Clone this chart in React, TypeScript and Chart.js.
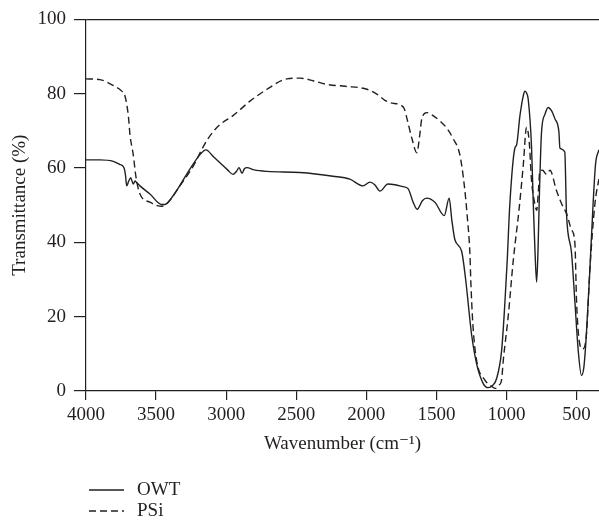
import React, { useEffect, useRef } from 'react';
import { Chart, registerables } from 'chart.js';

Chart.register(...registerables);

const FONT = '"Liberation Serif", "DejaVu Serif", serif';
const INK = '#231f20';
const FONT_SIZE = 19;

const seriesLabels = ['OWT', 'PSi'];

const owtWavenumber = [
  4000, 3900, 3805, 3760, 3729, 3718, 3710, 3695, 3681, 3663, 3650, 3639, 3615, 3544, 3460, 3437, 3377,
  3282, 3187, 3144, 3092, 3044, 2990, 2951, 2925, 2908, 2887, 2870, 2852, 2800, 2709, 2474, 2238, 2117,
  2024, 1974, 1940, 1903, 1846, 1796, 1740, 1701, 1668, 1637, 1600, 1570, 1511, 1444, 1409, 1390, 1368,
  1320, 1292, 1249, 1213, 1166, 1131, 1100, 1071, 1035, 1011, 995, 976, 940, 928, 904, 880, 869, 857,
  845, 821, 809, 797, 785, 775, 767, 750, 725, 703, 680, 655, 626, 619, 584, 572, 536, 512, 488, 465,
  448, 430, 405, 382, 365, 341,
];
const owtTransmittance = [
  62.2, 62.2, 61.8, 61.0, 60.1, 58.0, 55.2, 56.5, 57.4, 55.7, 56.5, 56.1, 55.2, 53.0, 50.2, 50.2, 52.6,
  58.3, 63.6, 64.9, 63.1, 61.4, 59.5, 58.3, 59.2, 60.1, 58.6, 59.8, 60.1, 59.5, 59.1, 58.8, 57.8, 57.0,
  55.2, 56.2, 55.5, 53.8, 55.7, 55.5, 55.0, 54.4, 51.0, 48.9, 51.2, 51.9, 50.8, 47.2, 51.9, 46.0, 40.7,
  37.6, 30.2, 15.2, 7.3, 2.0, 0.9, 1.5, 3.3, 10.8, 24.0, 35.0, 50.4, 65.4, 66.2, 74.1, 79.5, 80.7, 80.2,
  78.5, 65.4, 50.4, 38.0, 29.3, 38.0, 50.4, 69.7, 74.5, 76.3, 75.5, 73.3, 69.7, 65.4, 64.3, 47.8, 37.2,
  24.0, 10.8, 4.2, 6.4, 15.2, 32.8, 50.4, 60.9, 64.9,
];

const psiWavenumber = [
  4000, 3900, 3805, 3745, 3722, 3698, 3686, 3663, 3643, 3615, 3544, 3460, 3424, 3330, 3235, 3175, 3128,
  3050, 2951, 2830, 2709, 2566, 2474, 2380, 2281, 2150, 1996, 1925, 1870, 1832, 1760, 1730, 1710, 1675,
  1639, 1620, 1604, 1568, 1524, 1470, 1425, 1382, 1333, 1300, 1280, 1261, 1255, 1240, 1213, 1154, 1118,
  1082, 1052, 1035, 1023, 988, 952, 910, 880, 857, 838, 821, 798, 785, 772, 762, 743, 714, 690, 643, 596,
  572, 536, 512, 500, 481, 457, 430, 405, 369, 341,
];
const psiTransmittance = [
  84.0, 83.8, 82.2, 80.7, 79.4, 74.1, 68.9, 63.6, 57.5, 53.0, 50.8, 49.7, 50.4, 55.2, 60.5, 64.9, 68.0,
  71.5, 74.1, 78.0, 81.2, 84.0, 84.2, 83.5, 82.5, 82.0, 81.2, 79.9, 78.3, 77.6, 77.0, 76.0, 73.3, 68.0,
  64.1, 68.5, 73.3, 74.9, 74.1, 72.5, 70.7, 68.0, 63.6, 55.0, 47.0, 37.0, 30.0, 18.0, 8.2, 2.9, 1.6,
  0.7, 1.6, 3.0, 8.2, 20.0, 35.0, 49.0, 60.9, 71.0, 67.1, 56.5, 50.4, 48.6, 54.0, 59.2, 59.4, 58.3, 59.4,
  53.9, 49.5, 47.8, 43.4, 39.8, 24.0, 13.5, 11.3, 15.2, 32.8, 50.4, 57.0,
];

const xTickValues = [4000, 3500, 3000, 2500, 2000, 1500, 1000, 500];
const xMin = 340;
const xMax = 4000;
const yTickValues = [0, 20, 40, 60, 80, 100];

const toPoints = (xs: number[], ys: number[]) => xs.map((x, i) => ({ x, y: ys[i] }));

const stackedLegend = {
  id: 'stackedLegend',
  afterDraw(chart: any) {
    const { ctx, chartArea } = chart;
    ctx.save();
    chart.data.datasets.forEach((ds: any, i: number) => {
      const y = chartArea.bottom + 99 + i * 21;
      const x0 = chartArea.left + 3;
      ctx.beginPath();
      ctx.strokeStyle = ds.borderColor;
      ctx.lineWidth = ds.borderWidth;
      ctx.setLineDash(ds.borderDash || []);
      ctx.moveTo(x0, y);
      ctx.lineTo(x0 + 35, y);
      ctx.stroke();
      ctx.setLineDash([]);
      ctx.fillStyle = INK;
      ctx.font = `${FONT_SIZE}px ${FONT}`;
      ctx.textBaseline = 'middle';
      ctx.textAlign = 'left';
      ctx.fillText(ds.label, x0 + 48, y);
    });
    ctx.restore();
  },
};

export default function App() {
  const ref = useRef<HTMLCanvasElement>(null);
  useEffect(() => {
    if (!ref.current) return;
    const chart = new Chart(ref.current, {
      type: 'line',
      data: {
        datasets: [
          {
            label: seriesLabels[0],
            data: toPoints(owtWavenumber, owtTransmittance),
            borderColor: INK,
            borderWidth: 1.4,
            pointRadius: 0,
            cubicInterpolationMode: 'monotone',
            fill: false,
          },
          {
            label: seriesLabels[1],
            data: toPoints(psiWavenumber, psiTransmittance),
            borderColor: INK,
            borderWidth: 1.4,
            borderDash: [7, 4],
            pointRadius: 0,
            cubicInterpolationMode: 'monotone',
            fill: false,
          },
        ],
      },
      options: {
        responsive: false,
        animation: false,
        devicePixelRatio: 1,
        layout: { padding: { top: 12, right: 0, bottom: 70, left: 0 } },
        plugins: { legend: { display: false }, tooltip: { enabled: false } },
        scales: {
          x: {
            type: 'linear',
            reverse: true,
            min: xMin,
            max: xMax,
            afterBuildTicks: (scale: any) => {
              scale.ticks = xTickValues.map((v) => ({ value: v }));
            },
            afterFit: (scale: any) => {
              scale.height = 64;
            },
            ticks: {
              color: INK,
              font: { family: FONT, size: FONT_SIZE },
              padding: 4,
              maxRotation: 0,
              autoSkip: false,
              callback: (v: any) => String(v),
            },
            grid: { drawOnChartArea: false, tickLength: 9, tickColor: INK, lineWidth: 1.2 },
            border: { display: true, color: INK, width: 1.2 },
            title: {
              display: true,
              text: 'Wavenumber (cm⁻¹)',
              color: INK,
              font: { family: FONT, size: FONT_SIZE },
              padding: 0,
            },
          },
          y: {
            min: 0,
            max: 100,
            afterBuildTicks: (scale: any) => {
              scale.ticks = yTickValues.map((v) => ({ value: v }));
            },
            afterFit: (scale: any) => {
              scale.width = 86;
            },
            ticks: {
              color: INK,
              font: { family: FONT, size: FONT_SIZE },
              padding: 8,
              callback: (v: any) => String(v),
            },
            grid: {
              color: (c: any) => (c.tick && c.tick.value === 100 ? INK : 'rgba(0,0,0,0)'),
              tickColor: INK,
              tickLength: 12,
              lineWidth: 1.2,
            },
            border: { display: true, color: INK, width: 1.2 },
            title: {
              display: true,
              text: 'Transmittance (%)',
              color: INK,
              font: { family: FONT, size: FONT_SIZE },
              padding: { top: 9, bottom: 0 },
            },
          },
        },
      },
      plugins: [stackedLegend],
    } as any);
    return () => chart.destroy();
  }, []);
  return (
    <div style={{ position: 'fixed', left: 0, top: 0, width: 599, height: 525, background: '#fff' }}>
      <canvas ref={ref} width={599} height={525} />
    </div>
  );
}
